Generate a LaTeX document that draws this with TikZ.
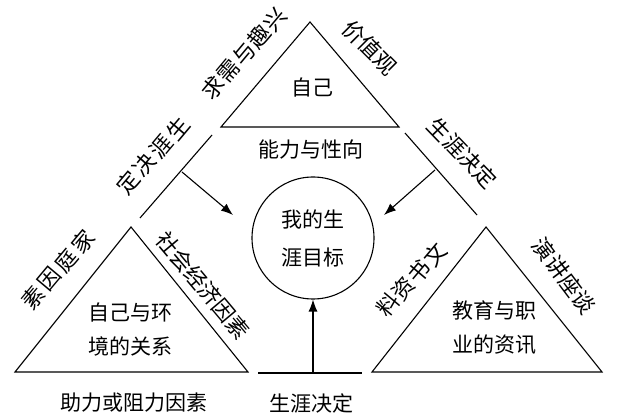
\documentclass[tikz,border=0pt]{standalone}
\usepackage{fontspec}
\newfontfamily\cjk{Noto Sans CJK SC}
\usetikzlibrary{arrows.meta,calc}
\tikzset{
  ln/.style={line width=1.1pt, line join=miter},
  arr/.style={line width=1.1pt, -{Latex[length=12pt,width=9pt]}},
  txt/.style={font=\cjk\fontsize{21}{25}\selectfont, inner sep=0pt},
  lbl/.style={font=\cjk\fontsize{22}{25}\selectfont, inner sep=0pt},
}
% characters set one by one, from top right downwards to the left
\newcommand\leftlbl[4]{%
  \foreach \c [count=\i from 0] in {#4}
    \node[lbl,rotate=50] (#1-\i) at ($(#2)+\i*(#3)$) {\c};%
}
\begin{document}
\begin{tikzpicture}[x=1pt,y=-1pt]
\useasboundingbox (0,0) rectangle (629,419);
% coordinates
\coordinate (ta) at (310,22);
\coordinate (tl) at (221,127);
\coordinate (tr) at (399,127);
\coordinate (ls1) at (212,135);
\coordinate (ls2) at (140,218);
\coordinate (rs1) at (405,133);
\coordinate (rs2) at (477,215);
\coordinate (la) at (131,227);
\coordinate (ll) at (15,372);
\coordinate (lr) at (248,372);
\coordinate (ra) at (486,227);
\coordinate (rl) at (372,372);
\coordinate (rr) at (602,372);
\coordinate (hb1) at (258,373);
\coordinate (hb2) at (362,373);
\coordinate (hbm) at (313,373);
\coordinate (lam) at (182,172);
\coordinate (lat) at (233,215);
\coordinate (ram) at (435,170);
\coordinate (rat) at (384,215);
% shapes
\draw[ln] (ta) -- (tl) -- (tr) -- cycle;
\draw[ln] (ls1) -- (ls2);
\draw[ln] (rs1) -- (rs2);
\draw[ln] (la) -- (ll) -- (lr) -- cycle;
\draw[ln] (ra) -- (rl) -- (rr) -- cycle;
\draw[ln] (hb1) -- (hb2);
\node[draw, ln, circle, minimum size=122pt, inner sep=0pt, align=center,
      font=\cjk\fontsize{21}{38}\selectfont] (goal) at (313,238) {我的生\\涯目标};
% arrows
\draw[arr] (lam) -- (lat);
\draw[arr] (ram) -- (rat);
\draw[arr] (hbm) -- (goal.south);
% texts
\node[txt] (self) at (312,88) {自己};
\node[txt] (abil) at (311,150) {能力与性向};
\node[txt, align=center, font=\cjk\fontsize{21}{34}\selectfont] (env) at (130,330) {自己与环\\境的关系};
\node[txt, align=center, font=\cjk\fontsize{21}{34}\selectfont] (edu) at (494,328) {教育与职\\业的资讯};
\node[txt] (help) at (134,403) {助力或阻力因素};
\node[txt] (dec) at (311,403) {生涯决定};
% side labels, left sides
\leftlbl{int}{275,20}{-15.5,17}{兴,趣,与,需,求}
\leftlbl{dl}{178,128}{-16.7,18.3}{生,涯,决,定}
\leftlbl{fam}{83,242}{-16.7,18.7}{家,庭,因,素}
\leftlbl{doc}{435,255}{-15.7,16.7}{文,书,资,料}
% side labels, right sides
\node[lbl, rotate=-45] (val) at (370,47.5) {价值观};
\node[lbl, rotate=-46] (dr) at (462.5,153) {生涯决定};
\node[lbl, rotate=-50] (soc) at (203,285.5) {社会经济因素};
\node[lbl, rotate=-53] (lec) at (564,276) {演讲座谈};
\end{tikzpicture}
\end{document}
